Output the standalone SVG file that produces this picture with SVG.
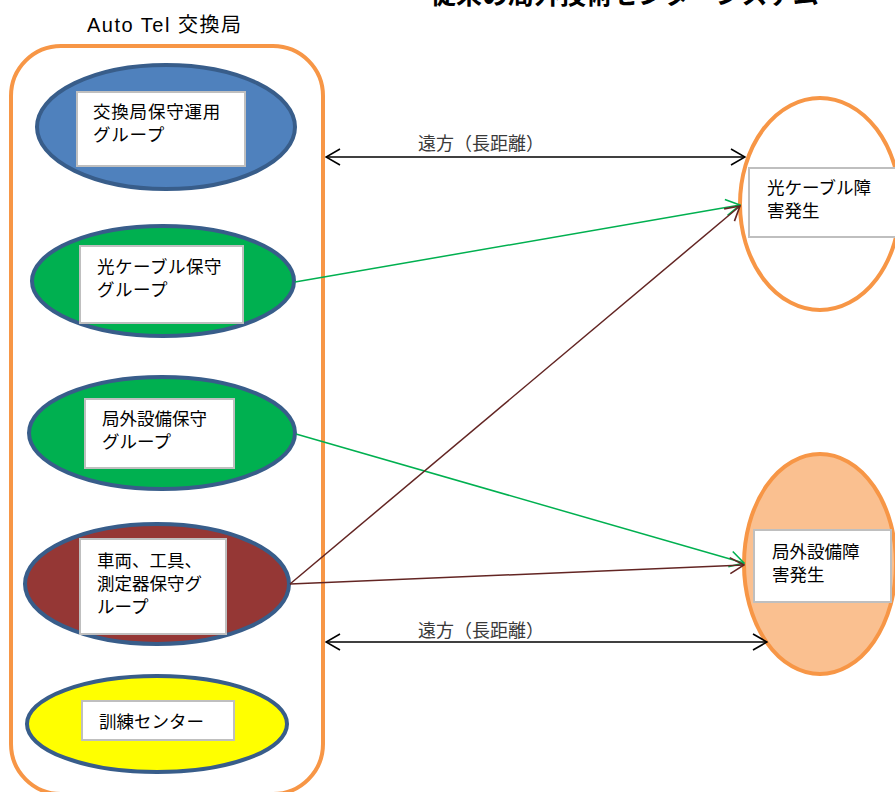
<svg xmlns="http://www.w3.org/2000/svg" width="895" height="792" viewBox="0 0 895 792">
<style>
text{font-family:"Noto Sans CJK JP","Liberation Sans",sans-serif;fill:#000}
.n{font-size:17.5px}
.lbl{font-size:18px;fill:#3a3a3a}
.grp{stroke:#385D8A;stroke-width:4}
.box{fill:#fff;stroke:#BFBFBF;stroke-width:2}
.fault{stroke:#F79646;stroke-width:4}
.conn{fill:none;stroke-width:1.5}
</style>
<defs>
<marker id="ak" viewBox="0 0 16 18" refX="15" refY="9" markerWidth="16" markerHeight="18" markerUnits="userSpaceOnUse" orient="auto-start-reverse"><path d="M1,1 L15,9 L1,17" fill="none" stroke="#000" stroke-width="1.6"/></marker>
<marker id="ag" viewBox="0 0 16 18" refX="15" refY="9" markerWidth="16" markerHeight="18" markerUnits="userSpaceOnUse" orient="auto"><path d="M1,1 L15,9 L1,17" fill="none" stroke="#00B050" stroke-width="1.6"/></marker>
<marker id="ab" viewBox="0 0 16 18" refX="15" refY="9" markerWidth="16" markerHeight="18" markerUnits="userSpaceOnUse" orient="auto"><path d="M1,1 L15,9 L1,17" fill="none" stroke="#632523" stroke-width="1.6"/></marker>
</defs>
<rect width="895" height="792" fill="#fff"/>
<text x="430" y="4" style="font-size:26px;font-weight:bold">従来の局外技術センターシステム</text>
<g id="exchange">
<text x="87" y="32" style="font-size:20px;letter-spacing:1.5px;font-family:'Liberation Sans','Noto Sans CJK JP',sans-serif">Auto Tel 交換局</text>
<rect x="11" y="46" width="312" height="748" rx="50" ry="50" fill="none" stroke="#F79646" stroke-width="4"/>
</g>
<g id="g1">
<ellipse cx="166" cy="127" rx="129" ry="62" fill="#4F81BD" class="grp"/>
<rect x="77" y="92" width="168" height="74" class="box"/>
<text class="n" x="93" y="118" style="letter-spacing:0.8px">交換局保守運用</text>
<text class="n" x="93" y="141" style="letter-spacing:0.8px">グループ</text>
</g>
<g id="g2">
<ellipse cx="163" cy="281" rx="131" ry="55" fill="#00B050" class="grp"/>
<rect x="80" y="246" width="163" height="77" class="box"/>
<text class="n" x="97" y="273" style="letter-spacing:0.5px">光ケーブル保守</text>
<text class="n" x="97" y="296" style="letter-spacing:0.5px">グループ</text>
</g>
<g id="g3">
<ellipse cx="162" cy="433" rx="133" ry="56" fill="#00B050" class="grp"/>
<rect x="85" y="399" width="149" height="69" class="box"/>
<text class="n" x="102" y="425">局外設備保守</text>
<text class="n" x="102" y="448">グループ</text>
</g>
<g id="g4">
<ellipse cx="157" cy="584" rx="132" ry="60" fill="#953735" class="grp"/>
<rect x="80" y="539" width="146" height="95" class="box"/>
<text class="n" x="97" y="567">車両、工具、</text>
<text class="n" x="97" y="590">測定器保守グ</text>
<text class="n" x="97" y="613">ループ</text>
</g>
<g id="g5">
<ellipse cx="157" cy="724" rx="130" ry="48" fill="#FFFF00" class="grp"/>
<rect x="82" y="701" width="152" height="39" class="box"/>
<text class="n" x="99" y="728">訓練センター</text>
</g>
<g id="f1">
<ellipse cx="820" cy="204" rx="80" ry="106" fill="#fff" class="fault"/>
<rect x="749" y="168" width="150" height="69" class="box"/>
<text class="n" x="767" y="194">光ケーブル障</text>
<text class="n" x="767" y="217">害発生</text>
</g>
<g id="f2">
<ellipse cx="820" cy="564" rx="76" ry="110" fill="#FAC090" class="fault"/>
<rect x="754" y="530" width="137" height="72" class="box"/>
<text class="n" x="772" y="558">局外設備障</text>
<text class="n" x="772" y="581">害発生</text>
</g>
<g id="connectors">
<line x1="326" y1="157" x2="745" y2="157" class="conn" stroke="#000" marker-start="url(#ak)" marker-end="url(#ak)"/>
<text class="lbl" x="418" y="150">遠方（長距離）</text>
<line x1="326" y1="642" x2="767" y2="642" class="conn" stroke="#000" marker-start="url(#ak)" marker-end="url(#ak)"/>
<text class="lbl" x="418" y="637">遠方（長距離）</text>
<line x1="295" y1="282" x2="740" y2="205" class="conn" stroke="#00B050" marker-end="url(#ag)"/>
<line x1="296" y1="434" x2="744" y2="563" class="conn" stroke="#00B050" marker-end="url(#ag)"/>
<line x1="290" y1="584" x2="740" y2="206" class="conn" stroke="#632523" marker-end="url(#ab)"/>
<line x1="290" y1="584" x2="744" y2="565" class="conn" stroke="#632523" marker-end="url(#ab)"/>
</g>
</svg>
